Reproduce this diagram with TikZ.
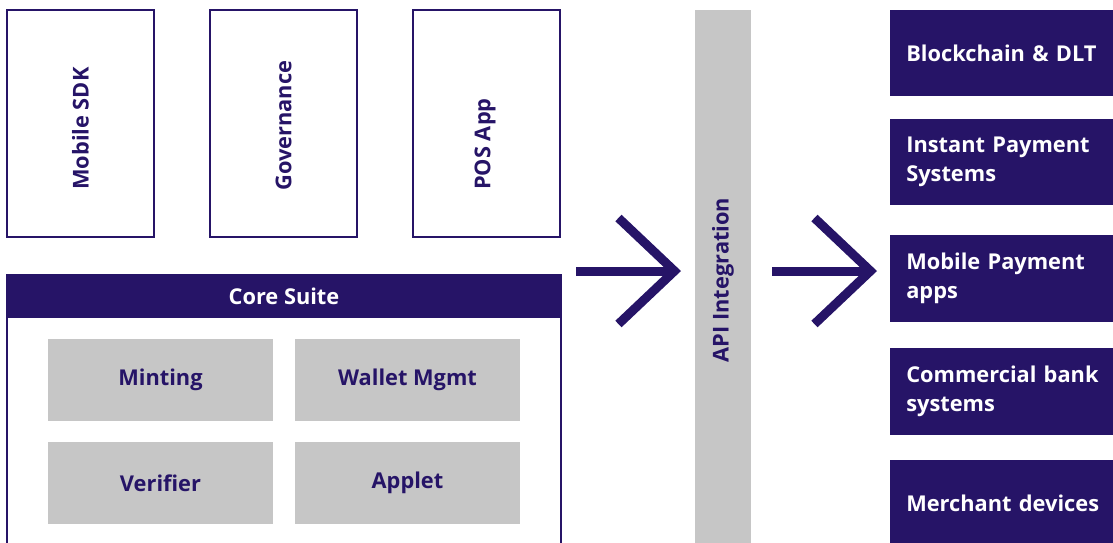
\documentclass[tikz,border=0pt]{standalone}
\usepackage{fontspec}
\setmainfont{Open Sans}
\usetikzlibrary{arrows.meta}
\definecolor{ecbpurple}{HTML}{261467}
\definecolor{ecbgrey}{HTML}{C6C6C6}
\begin{document}
\begin{tikzpicture}[x=0.025cm,y=-0.025cm]

    \tikzset{
      boxfont/.style={font=\fontsize{15.5}{20.5}\selectfont\bfseries},
      comp/.style={
        draw=ecbpurple,
        line width=1.3pt,
        minimum width=3.675cm,
        minimum height=5.675cm,
      },
      comptext/.style={boxfont, text=ecbpurple, rotate=90, anchor=west, inner sep=0pt},
      module/.style={boxfont, fill=ecbgrey, text=ecbpurple, minimum width=5.625cm, minimum height=2.05cm},
      rail/.style={boxfont, fill=ecbgrey, text=ecbpurple, minimum width=1.4cm, minimum height=13.5cm},
      target/.style={
        boxfont,
        fill=ecbpurple,
        text=white,
        anchor=west,
        inner xsep=0.4cm,
        text width=5.4cm,
        align=left,
        minimum height=2.15cm,
      },
      flow/.style={line width=6.4pt, color=ecbpurple, -{Straight Barb[length=1.4cm,width=2.65cm,sharp]}},
    }
    \useasboundingbox (0,0) rectangle (1113,542);
    \clip (0,0) rectangle (1113,542);

    % top components
    \node[comp] (sdk) at (80.5,123.5) {};
    \node[comp] (gov) at (283.5,123.5) {};
    \node[comp] (pos) at (486.5,123.5) {};
    \node[comptext] (sdkt) at (80.5,190) {Mobile SDK};
    \node[comptext] (govt) at (283.5,191) {Governance};
    \node[comptext] (post) at (485,190) {POS App};

    % core suite
    \draw[ecbpurple, line width=1.3pt] (7,275) rectangle (561,560);
    \node[boxfont, fill=ecbpurple, text=white, minimum width=13.85cm, minimum height=1.075cm] (core) at (284,296.5) {Core Suite};
    \node[module] (mint) at (160.5,380) {Minting};
    \node[module] (wallet) at (407.5,380) {Wallet Mgmt};
    \node[module] (verif) at (160.5,483) {Verifier};
    \node[module] (applet) at (407.5,483) {Applet};

    % integration layer
    \node[rail] (api) at (723,280) {\rotatebox{90}{API Integration}};

    % targets
    \node[target] (dlt) at (890,53) {Blockchain \& DLT};
    \node[target] (ips) at (890,162) {Instant Payment\\Systems};
    \node[target] (mpa) at (890,278.5) {Mobile Payment\\apps};
    \node[target] (cbs) at (890,391.5) {Commercial bank\\systems};
    \node[target] (mdev) at (890,503) {Merchant devices};

    \coordinate (in1) at (576,271);
    \coordinate (out1) at (681,271);
    \coordinate (in2) at (772,271);
    \coordinate (out2) at (877,271);
    \draw[flow] (in1) -- (out1);
    \draw[flow] (in2) -- (out2);

\end{tikzpicture}
\end{document}
